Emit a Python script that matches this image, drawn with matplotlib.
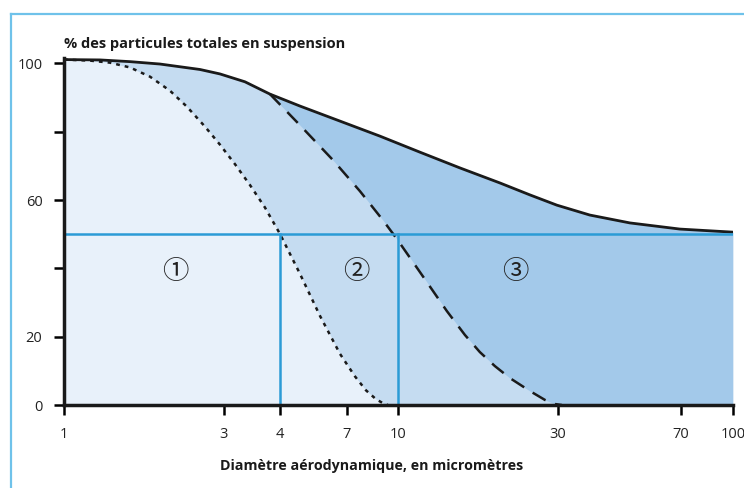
import matplotlib.pyplot as plt
from matplotlib.lines import Line2D

plt.rcParams['font.family'] = ['Open Sans', 'Noto Sans CJK SC', 'DejaVu Sans']

# total (inhalable) curve
d_top = [1, 1.281, 1.575, 1.936, 2.551, 2.927, 3.476, 4.129, 5.077, 6.686, 8.804,
         11.6, 15.27, 20.11, 24.73, 29.77, 37.36, 49.21, 69.42, 100]
p_top = [101.1, 101.0, 100.5, 99.8, 98.2, 96.9, 94.6, 91.0, 87.5, 83.1, 78.7,
         74.0, 69.4, 65.0, 61.5, 58.5, 55.6, 53.3, 51.5, 50.6]

# thoracic curve (dashed)
d_tho = [4.129, 5.077, 6.371, 7.672, 8.989, 9.897, 11.6, 13.96, 15.81, 17.52,
         19.43, 21.54, 24.73, 27.42, 29.37, 30.82]
p_tho = [91.0, 81.9, 71.7, 62.6, 54.1, 48.6, 38.9, 27.5, 20.5, 15.5,
         11.4, 7.9, 4.1, 1.5, 0.3, 0]

# respirable curve (dotted)
d_res = [1, 1.196, 1.372, 1.575, 1.808, 2.074, 2.332, 2.639, 2.927, 3.245, 3.598,
         3.99, 4.423, 5.077, 5.827, 6.686, 7.413, 8.0, 8.55, 9.0, 9.3]
p_res = [101.1, 100.8, 100.2, 98.8, 96.1, 92.0, 87.3, 81.5, 76.2, 70.5, 64.4,
         57.8, 50.1, 38.4, 26.1, 15.0, 8.4, 4.3, 1.8, 0.5, 0]

x_ticks = [1, 3, 4.42, 7, 10, 30, 70, 100]
x_labels = ['1', '3', '4', '7', '10', '30', '70', '100']
y_ticks = [0, 20, 40, 60, 80, 100]
y_labels = ['0', '20', '', '60', '', '100']
cut_res = 4.42
cut_tho = 10

zones = ['\u2460', '\u2461', '\u2462']
zone_x = [2.15, 7.5, 22.3]
zone_y = [38.8, 38.8, 38.8]

fig = plt.figure(figsize=(7.44, 4.88), dpi=100)
ax = fig.add_axes([0.086, 0.170, 0.899, 0.7107])

# fills, darkest first
ax.fill_between(d_top, 0, p_top, color='#a3c9ea', lw=0)
d_mid = [d for d in d_top if d < d_tho[0]] + d_tho
p_mid = [p for d, p in zip(d_top, p_top) if d < d_tho[0]] + p_tho
ax.fill_between(d_mid, 0, p_mid, color='#c5dcf1', lw=0)
ax.fill_between(d_res, 0, p_res, color='#e8f1fa', lw=0)

ax.plot(d_top, p_top, color='#1a1a1a', lw=2)
ax.plot(d_tho, p_tho, color='#1a1a1a', lw=1.8, dashes=(6, 4))
ax.plot(d_res, p_res, color='#1a1a1a', lw=1.8, dashes=(1.5, 2))

blue = '#2b9bd6'
ax.axhline(50, color=blue, lw=1.8)
ax.plot([cut_res, cut_res], [0, 50], color=blue, lw=1.8)
ax.plot([cut_tho, cut_tho], [0, 50], color=blue, lw=1.8)

for t, x, y in zip(zones, zone_x, zone_y):
    ax.text(x, y, t, fontsize=19, ha='center', va='center', color='#222222')

ax.set_xscale('log')
ax.set_xlim(1, 100)
ax.set_ylim(0, 101.5)
ax.set_xticks(x_ticks)
ax.set_xticklabels(x_labels)
ax.minorticks_off()
ax.set_yticks(y_ticks)
ax.set_yticklabels(y_labels)
ax.tick_params(length=7.5, width=1.8, pad=8, labelsize=10.5, labelcolor='#222222')

for s in ['top', 'right']:
    ax.spines[s].set_visible(False)
for s in ['left', 'bottom']:
    ax.spines[s].set_linewidth(2.5)
    ax.spines[s].set_color('#1a1a1a')

fig.text(64 / 744, 1 - 44 / 488, '% des particules totales en suspension',
         fontsize=10.5, fontweight='bold', ha='left', va='center', color='#1a1a1a')
fig.text(372 / 744, 1 - 466 / 488, 'Diamètre aérodynamique, en micromètres',
         fontsize=10.3, fontweight='bold', ha='center', va='center', color='#1a1a1a')

# light blue frame
bc = '#6fc2ea'
fig.add_artist(Line2D([11 / 744, 11 / 744], [0, 1 - 14 / 488], color=bc, lw=1.6))
fig.add_artist(Line2D([11 / 744, 1], [1 - 14 / 488, 1 - 14 / 488], color=bc, lw=1.6))

fig.savefig('out.png', dpi=100)
